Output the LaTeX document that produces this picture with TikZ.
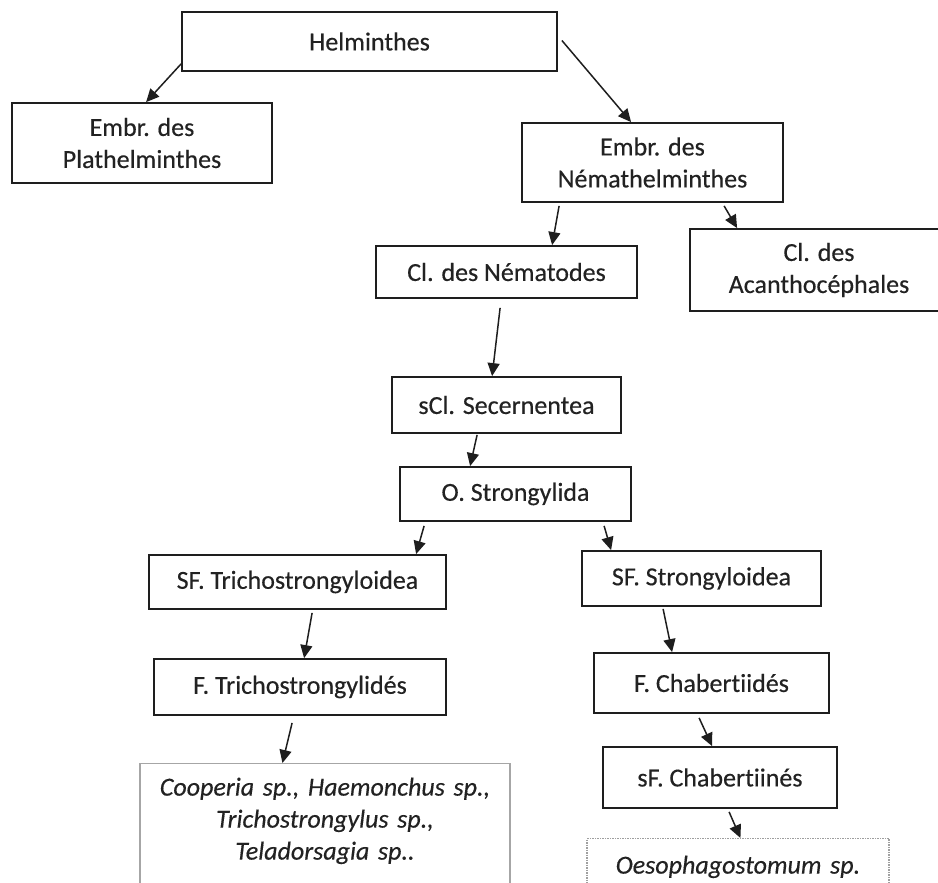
\documentclass[tikz,border=0pt]{standalone}
\usepackage{fontspec}
\setmainfont{Carlito}[Ligatures=NoCommon, FakeBold=0.35]
\usetikzlibrary{arrows.meta,calc}
\definecolor{txt}{HTML}{222222}
\definecolor{edge}{HTML}{1E1E1E}
\begin{document}
\begin{tikzpicture}[x=1pt,y=-1pt,
  box/.style={draw=edge, line width=1.8pt, fill=white, text=txt, align=center, inner sep=0pt,
    font=\fontsize{26}{32}\selectfont},
  leafbox/.style={draw=gray!70, line width=1.1pt, fill=white, text=txt, align=center, inner xsep=0pt,
    anchor=north, font=\fontsize{26}{32}\selectfont\itshape},
  arr/.style={-{Triangle[length=13pt,width=12pt]}, line width=1.5pt, draw=edge},
]
\useasboundingbox (0,0) rectangle (938,883);
\clip (0,0) rectangle (938,883);

\node[box, minimum width=375pt, minimum height=59pt] (helm) at (369.5,41.5) {Helminthes};
\node[box, minimum width=260pt, minimum height=80pt] (plat) at (142,143) {Embr. des\\Plathelminthes};
\node[box, minimum width=261pt, minimum height=79pt] (nemath) at (652.5,162.5) {Embr. des\\Némathelminthes};
\node[box, minimum width=261pt, minimum height=52pt] (nematodes) at (506.5,272) {Cl. des Nématodes};
\node[box, minimum width=258pt, minimum height=82pt] (acanth) at (819,270) {Cl. des\\Acanthocéphales};
\node[box, minimum width=229pt, minimum height=56pt] (secern) at (506.5,405) {sCl. Secernentea};
\node[box, minimum width=231pt, minimum height=54pt] (strongylida) at (515.5,494) {O. Strongylida};
\node[box, minimum width=297pt, minimum height=54pt] (sftricho) at (297.5,582) {SF. Trichostrongyloidea};
\node[box, minimum width=239pt, minimum height=55pt] (sfstrong) at (701.5,578.5) {SF. Strongyloidea};
\node[box, minimum width=292pt, minimum height=56pt] (ftricho) at (300,687) {F. Trichostrongylidés};
\node[box, minimum width=235pt, minimum height=60pt] (fchab) at (711.5,683) {F. Chabertiidés};
\node[box, minimum width=234pt, minimum height=61pt] (sfchab) at (720,777.5) {sF. Chabertiinés};
\node[leafbox, text width=370pt, inner ysep=14pt] (coop) at (325,763)
  {Cooperia sp., Haemonchus sp.,\\ Trichostrongylus sp.,\\ Teladorsagia sp..\\ \rule{0pt}{60pt}};
\node[leafbox, text width=302pt, inner ysep=17pt, draw=gray!75, dash pattern=on 1.5pt off 1pt] (oeso) at (738,838)
  {Oesophagostomum sp.\\ \rule{0pt}{60pt}};

\draw[arr] ($(helm.south west)+(0,-8)$) -- ($(plat.north west)+(135,0)$);
\draw[arr] ($(helm.east)+(4,-1)$) -- ($(nemath.north west)+(110,0)$);
\draw[arr] ($(nemath.south west)+(38,3)$) -- ($(nematodes.north west)+(177,0)$);
\draw[arr] ($(nemath.south west)+(203,3)$) -- ($(acanth.north west)+(48,0)$);
\draw[arr] ($(nematodes.south west)+(125,9)$) -- ($(secern.north west)+(101,0)$);
\draw[arr] ($(secern.south west)+(86,1)$) -- ($(strongylida.north west)+(71,0)$);
\draw[arr] ($(strongylida.south west)+(25,4)$) -- ($(sftricho.north west)+(268,0)$);
\draw[arr] ($(strongylida.south west)+(205,4)$) -- ($(sfstrong.north west)+(30,0)$);
\draw[arr] ($(sftricho.south west)+(164,3)$) -- ($(ftricho.north west)+(151,0)$);
\draw[arr] ($(sfstrong.south west)+(82,2)$) -- ($(fchab.north west)+(79,0)$);
\draw[arr] ($(ftricho.south west)+(139,7)$) -- ($(coop.north west)+(143,0)$);
\draw[arr] ($(fchab.south west)+(106,4)$) -- ($(sfchab.north west)+(110,0)$);
\draw[arr] ($(sfchab.south west)+(127,3)$) -- ($(oeso.north west)+(154,0)$);
\end{tikzpicture}
\end{document}
